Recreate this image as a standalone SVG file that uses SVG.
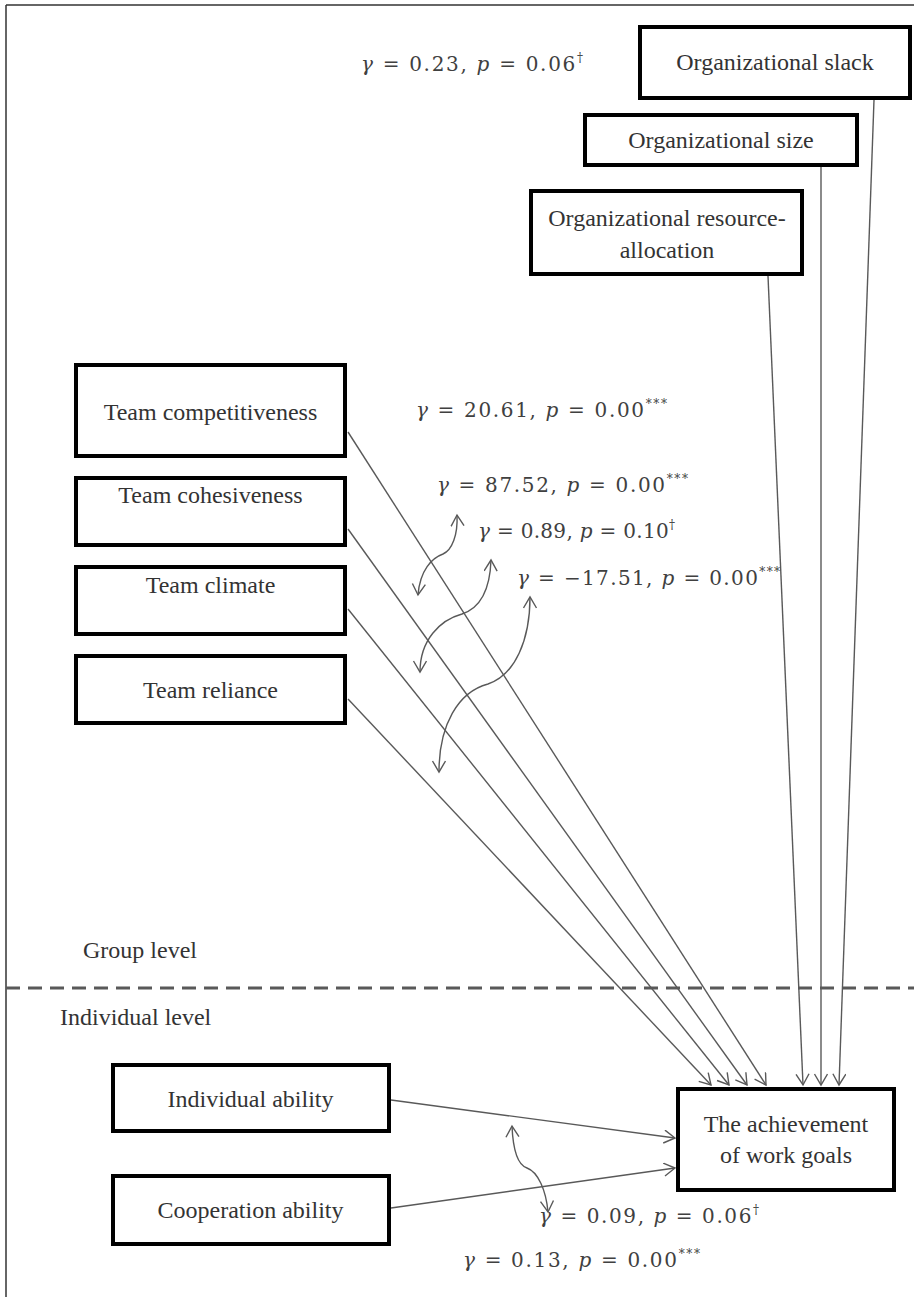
<svg xmlns="http://www.w3.org/2000/svg" width="914" height="1297" viewBox="0 0 914 1297">
<defs>
<style>
.box{fill:#fff;stroke:#000;stroke-width:4}
.lbl{font-family:"Liberation Serif","Times New Roman",serif;font-size:24px;fill:#333;text-anchor:middle}
.lvl{font-family:"Liberation Serif","Times New Roman",serif;font-size:24px;fill:#333}
.m{font-family:"DejaVu Serif","Liberation Serif",serif;font-size:20px;fill:#404040}
.i{font-style:italic}
.sup{font-size:12px}
.ln{fill:none;stroke:#595959;stroke-width:1.4}
.arr{marker-end:url(#ah)}
.dbl{marker-start:url(#ah);marker-end:url(#ah)}
</style>
<marker id="ah" markerWidth="14" markerHeight="16" refX="12" refY="7" orient="auto-start-reverse" markerUnits="userSpaceOnUse">
<path d="M1,0.5 L12,7 L1,13.5" fill="none" stroke="#595959" stroke-width="1.4"/>
</marker>
</defs>
<rect width="914" height="1297" fill="#fff"/>
<g id="frame">
<line x1="6" y1="5" x2="914" y2="5" stroke="#333" stroke-width="1.5"/>
<line x1="6" y1="5" x2="6" y2="1297" stroke="#333" stroke-width="1.5"/>
<line x1="6" y1="988" x2="914" y2="988" stroke="#595959" stroke-width="3" stroke-dasharray="14 8"/>
</g>
<g id="connectors">
<path class="ln arr" d="M874,100 L839,1085"/>
<path class="ln arr" d="M821,167 L821,1085"/>
<path class="ln arr" d="M768,276 L803,1085"/>
<path class="ln arr" d="M348,432 L766,1085"/>
<path class="ln arr" d="M348,529 L747,1085"/>
<path class="ln arr" d="M348,609 L729,1085"/>
<path class="ln arr" d="M348,699 L711,1085"/>
<path class="ln arr" d="M391,1100 L675,1138"/>
<path class="ln arr" d="M391,1208 L675,1168"/>
<path class="ln dbl" d="M457,515 C458,535 452,550 443,554 C432,558 420,570 418,595"/>
<path class="ln dbl" d="M491,560 C490,590 480,608 462,614 C440,620 420,640 420,672"/>
<path class="ln dbl" d="M530,597 C530,640 515,675 488,684 C458,692 439,725 439,772"/>
<path class="ln dbl" d="M512,1126 C513,1150 518,1165 527,1168 C538,1172 546,1190 548,1212"/>
</g>
<g id="slack"><rect class="box" x="640" y="27" width="270" height="71"/><text class="lbl" x="775" y="70">Organizational slack</text></g>
<g id="size"><rect class="box" x="585" y="115" width="272" height="50"/><text class="lbl" x="721" y="148">Organizational size</text></g>
<g id="resource"><rect class="box" x="531" y="191" width="271" height="83"/><text class="lbl" x="667" y="226">Organizational resource-</text><text class="lbl" x="667" y="258">allocation</text></g>
<g id="competitiveness"><rect class="box" x="76" y="365" width="269" height="91"/><text class="lbl" x="210.5" y="420">Team competitiveness</text></g>
<g id="cohesiveness"><rect class="box" x="76" y="478" width="269" height="67"/><text class="lbl" x="210.5" y="503">Team cohesiveness</text></g>
<g id="climate"><rect class="box" x="76" y="567" width="269" height="67"/><text class="lbl" x="210.5" y="593">Team climate</text></g>
<g id="reliance"><rect class="box" x="76" y="656" width="269" height="67"/><text class="lbl" x="210.5" y="698">Team reliance</text></g>
<g id="individual"><rect class="box" x="113" y="1065" width="276" height="66"/><text class="lbl" x="250.5" y="1107">Individual ability</text></g>
<g id="cooperation"><rect class="box" x="113" y="1176" width="276" height="68"/><text class="lbl" x="250.5" y="1218">Cooperation ability</text></g>
<g id="achievement"><rect class="box" x="678" y="1089" width="216" height="101"/><text class="lbl" x="786" y="1132">The achievement</text><text class="lbl" x="786" y="1163">of work goals</text></g>
<g id="levels">
<text class="lvl" x="83" y="958">Group level</text>
<text class="lvl" x="60" y="1025">Individual level</text>
</g>
<g id="coefficients">
<text class="m" x="361" y="71" textLength="222" lengthAdjust="spacing"><tspan class="i">γ</tspan> = 0.23,  <tspan class="i">p</tspan> = 0.06<tspan class="sup" dy="-9">†</tspan></text>
<text class="m" x="416" y="417" textLength="251" lengthAdjust="spacing"><tspan class="i">γ</tspan> = 20.61,  <tspan class="i">p</tspan> = 0.00<tspan class="sup" dy="-9">***</tspan></text>
<text class="m" x="437" y="492" textLength="251" lengthAdjust="spacing"><tspan class="i">γ</tspan> = 87.52,  <tspan class="i">p</tspan> = 0.00<tspan class="sup" dy="-9">***</tspan></text>
<text class="m" x="478" y="538" textLength="197" lengthAdjust="spacing"><tspan class="i">γ</tspan> = 0.89,  <tspan class="i">p</tspan> = 0.10<tspan class="sup" dy="-9">†</tspan></text>
<text class="m" x="517" y="585" textLength="263" lengthAdjust="spacing"><tspan class="i">γ</tspan> = −17.51,  <tspan class="i">p</tspan> = 0.00<tspan class="sup" dy="-9">***</tspan></text>
<text class="m" x="539" y="1223" textLength="220" lengthAdjust="spacing"><tspan class="i">γ</tspan> = 0.09,  <tspan class="i">p</tspan> = 0.06<tspan class="sup" dy="-9">†</tspan></text>
<text class="m" x="463" y="1267" textLength="237" lengthAdjust="spacing"><tspan class="i">γ</tspan> = 0.13,  <tspan class="i">p</tspan> = 0.00<tspan class="sup" dy="-9">***</tspan></text>
</g>
</svg>
